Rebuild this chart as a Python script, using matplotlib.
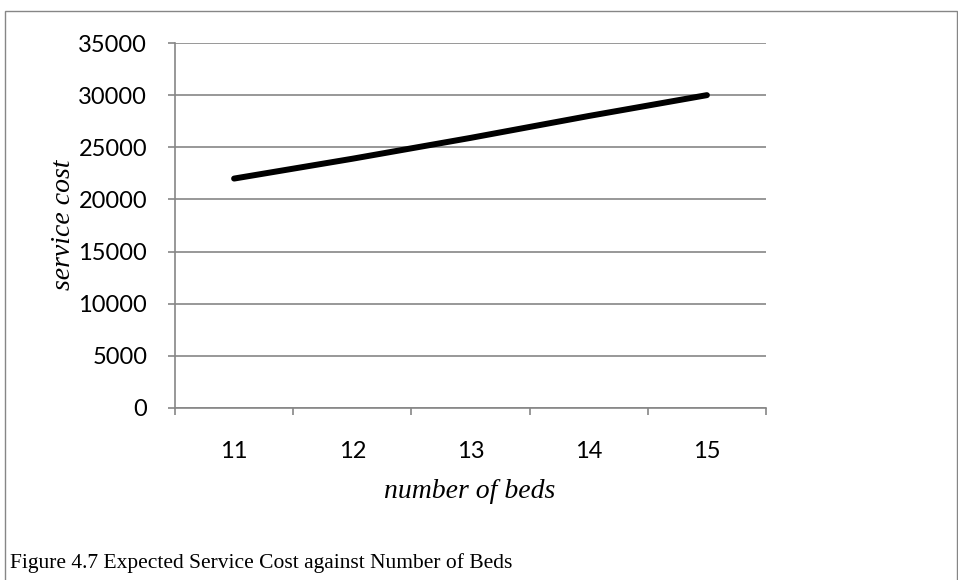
import matplotlib
matplotlib.use("Agg")
import matplotlib.pyplot as plt
from matplotlib.patches import Rectangle

# Data
beds = ["11", "12", "13", "14", "15"]
service_cost = [22000, 23900, 25900, 28000, 30000]
y_ticks = [0, 5000, 10000, 15000, 20000, 25000, 30000, 35000]

W, H = 958, 580
fig = plt.figure(figsize=(W / 100, H / 100), dpi=100)
fig.patch.set_facecolor("white")

grey = "#868686"

# outer chart frame
fig.patches.append(Rectangle((5 / W, -0.05), (957 - 5) / W, 1 - 11 / H + 0.05,
                             transform=fig.transFigure, fill=False,
                             edgecolor=grey, linewidth=1.0))

left, right, top, bottom = 175 / W, 766 / W, 1 - 43 / H, 1 - 408 / H
ax = fig.add_axes([left, bottom, right - left, top - bottom])

x = list(range(len(beds)))
ax.plot(x, service_cost, color="black", linewidth=4.3, solid_capstyle="round")

ax.set_xlim(-0.5, len(beds) - 0.5)
ax.set_ylim(0, 35000)

ax.set_yticks(y_ticks)
ax.set_yticklabels([str(v) for v in y_ticks], fontfamily="Lato", fontsize=17)
ax.yaxis.grid(True, color=grey, linewidth=1.2)
ax.set_axisbelow(True)

# category boundaries as major ticks, labels at centres
ax.set_xticks([i - 0.5 for i in range(len(beds) + 1)])
ax.set_xticklabels([])
ax.set_xticks(x, minor=True)
ax.set_xticklabels(beds, minor=True, fontfamily="Lato", fontsize=17)
ax.tick_params(axis="x", which="major", length=5, color=grey, width=1.2, direction="out")
ax.tick_params(axis="x", which="minor", length=0, pad=24)
ax.tick_params(axis="y", length=5, color=grey, width=1.2, direction="out", pad=15)

for s in ["top", "right"]:
    ax.spines[s].set_visible(False)
for s in ["left", "bottom"]:
    ax.spines[s].set_color(grey)
    ax.spines[s].set_linewidth(1.2)

fig.text(64 / W, 1 - 225 / H, "service cost", rotation=90, ha="center", va="center",
         fontfamily="Liberation Serif", fontstyle="italic", fontsize=20)
fig.text(470 / W, 1 - 491 / H, "number of beds", ha="center", va="center",
         fontfamily="Liberation Serif", fontstyle="italic", fontsize=20)

fig.text(10 / W, 1 - 563 / H, "Figure 4.7 Expected Service Cost against Number of Beds",
         ha="left", va="center", fontfamily="Liberation Serif", fontsize=15.5)

fig.savefig("out.png", dpi=100)
